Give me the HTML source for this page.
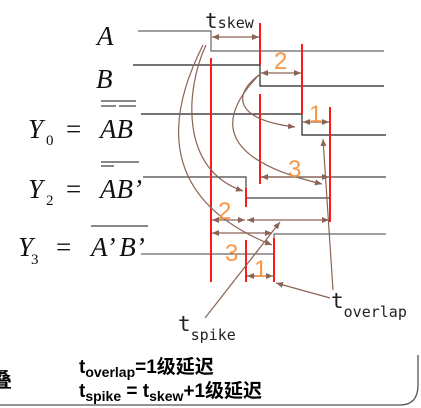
<!DOCTYPE html>
<html><head><meta charset="utf-8"><style>
body{margin:0;background:#fff}
svg{display:block}
.sig{font-family:"Liberation Serif",serif;font-style:italic;font-size:27px;fill:#111}
.sub{font-family:"Liberation Serif",serif;font-size:15px;fill:#111}
.num{font-family:"Liberation Sans",sans-serif;font-size:24px;fill:#f79646}
.lbl{font-family:"DejaVu Sans Mono","Liberation Mono",monospace;fill:#222}
.bt{font-family:"Liberation Sans","Noto Sans CJK SC",sans-serif;font-weight:bold;fill:#000}
</style></head><body>
<svg width="421" height="408" viewBox="0 0 421 408">
<defs><marker id="ah" markerWidth="8" markerHeight="8" refX="7" refY="4" orient="auto-start-reverse" markerUnits="userSpaceOnUse"><path d="M0,1 L7,4 L0,7 Z" fill="#8b6355"/></marker></defs>
<g>
<text class="sig" x="97" y="45">A</text>
<text class="sig" x="96" y="88">B</text>
<text class="sig" x="28" y="138">Y</text><text class="sub" x="46" y="145">0</text><text class="sig" x="66" y="138" style="font-style:normal">=</text><text class="sig" x="100" y="138">AB</text>
<line x1="101" y1="101" x2="136" y2="101" stroke="#111"/><line x1="101" y1="106" x2="116" y2="106" stroke="#111"/><line x1="119" y1="106" x2="136" y2="106" stroke="#111"/>
<text class="sig" x="28" y="198">Y</text><text class="sub" x="46" y="205">2</text><text class="sig" x="66" y="198" style="font-style:normal">=</text><text class="sig" x="100" y="198">AB’</text>
<line x1="101" y1="162" x2="139" y2="162" stroke="#111"/><line x1="101" y1="166" x2="114" y2="166" stroke="#111"/>
<text class="sig" x="18" y="256">Y</text><text class="sub" x="31" y="264">3</text><text class="sig" x="56" y="256" style="font-style:normal">=</text><text class="sig" x="91" y="256">A’ B’</text>
<line x1="91" y1="226" x2="148" y2="226" stroke="#111"/>
</g>
<g fill="none" stroke-width="1.2">
<polyline points="138,31 211,31 211,51 384,51" stroke="#666"/>
<polyline points="133,65 260,65 260,86 384,86" stroke="#222"/>
<polyline points="141,114 302,114 302,135 386,135" stroke="#222"/>
<polyline points="143,177 246,177 246,198 330,198" stroke="#444"/>
<line x1="260" y1="177" x2="386" y2="177" stroke="#444"/>
<polyline points="141,254 274,254 274,234 386,234" stroke="#666"/>
</g>
<g stroke="#ff1a1a" stroke-width="2">
<line x1="211" y1="58" x2="211" y2="282"/><line x1="260" y1="23" x2="260" y2="65"/><line x1="260" y1="94" x2="260" y2="184"/>
<line x1="302" y1="44" x2="302" y2="114"/><line x1="330" y1="107" x2="330" y2="222"/>
<line x1="246" y1="188" x2="246" y2="207"/><line x1="246" y1="240" x2="246" y2="282"/><line x1="274" y1="238" x2="274" y2="282"/>
</g>
<g stroke="#8b6355" stroke-width="1.3" marker-start="url(#ah)" marker-end="url(#ah)">
<line x1="212" y1="37" x2="259" y2="37"/><line x1="261" y1="73" x2="301" y2="73"/><line x1="303" y1="122" x2="329" y2="122"/>
<line x1="261" y1="177" x2="329" y2="177"/><line x1="212" y1="220" x2="245" y2="220"/><line x1="247" y1="220" x2="329" y2="220"/>
<line x1="212" y1="233" x2="272" y2="233"/><line x1="247" y1="276" x2="273" y2="276"/>
</g>
<g stroke="#8b6355" stroke-width="1.2" fill="none" marker-end="url(#ah)">
<path d="M206,45 C185,90 180,170 243,191"/>
<path d="M203,45 C165,120 160,200 272,245"/>
<path d="M259,75 C232,95 235,120 295,127"/>
<path d="M259,75 C215,120 220,160 322,184"/>
<path d="M333,290 L323,139"/>
<path d="M330,298 L276,283"/>
<path d="M205,318 L280,222"/>
</g>
<g>
<text class="num" x="274" y="69">2</text><text class="num" x="309" y="122">1</text><text class="num" x="288" y="177">3</text>
<text class="num" x="218" y="219">2</text><text class="num" x="225" y="261">3</text><text class="num" x="254" y="277">1</text>
</g>
<g>
<text class="lbl" x="205" y="28" font-size="21" font-family="Liberation Serif">t<tspan font-size="15">skew</tspan></text>
<text class="lbl" x="178" y="331" font-size="21">t<tspan font-size="15" dy="9">spike</tspan></text>
<text class="lbl" x="331" y="308" font-size="21">t<tspan font-size="15" dy="9">overlap</tspan></text>
</g>
<g>
<text class="bt" x="79" y="373" font-size="19">t<tspan font-size="14" dy="4">overlap</tspan><tspan dy="-4">=1级延迟</tspan></text>
<text class="bt" x="79" y="397" font-size="19">t<tspan font-size="14" dy="4">spike</tspan><tspan dy="-4"> = t</tspan><tspan font-size="14" dy="4">skew</tspan><tspan dy="-4">+1级延迟</tspan></text>
<text class="bt" x="-8" y="387" font-size="20">叠</text>
</g>
<path d="M0,405 L400,405 Q418,405 418,385 L418,355" fill="none" stroke="#555" stroke-width="1.3"/>
</svg>
</body></html>
